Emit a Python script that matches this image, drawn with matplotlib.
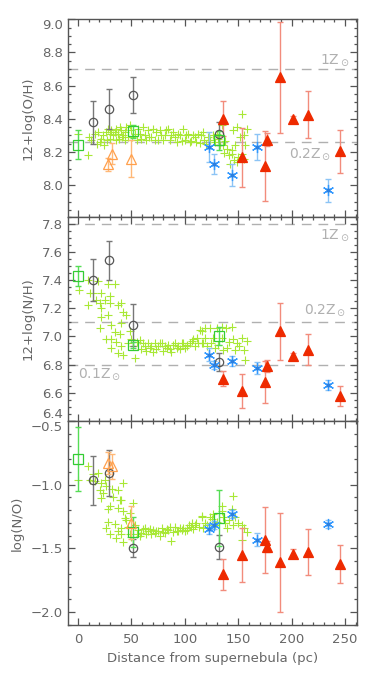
import matplotlib
matplotlib.use('Agg')
import matplotlib.pyplot as plt
from matplotlib.ticker import MultipleLocator

# ---- spaxel crosses (yellow-green) ----
oh_cross_x = [0.6, 9.6, 10.3, 12.5, 15.9, 17.5, 19, 20.6, 22, 23.6, 24.5, 26.7, 27.5, 28.3, 29.9, 30.5,
              31.4, 33, 34.5, 35.5, 36.1, 37.6, 38.5, 39.2, 40.8, 41.5, 42.3, 43.9, 44.5, 45.4, 47, 48.5,
              50.1, 51, 53.5, 55, 56.3, 57.9, 59, 61, 62.5, 64, 65.6, 67, 68.8, 70.3, 72, 73.5, 75, 77,
              78.1, 80, 81.3, 82.5, 84.4, 86, 87.5, 89.1, 90.7, 92.5, 94, 95.4, 97, 98.5, 100, 101.5,
              103.2, 104.5, 106.3, 108, 109.4, 111, 112.5, 114, 115.5, 117.2, 118.5, 120, 121.5, 124,
              126, 128, 130, 131.5, 133, 134.7, 135.7, 136.9, 137.8, 139.4, 141, 142.5, 144, 144.6,
              145.6, 146.5, 147, 148.7, 149.3, 150, 151.8, 153.4, 154, 155, 155.5, 156.5, 158]
oh_cross_y = [8.31, 8.18, 8.29, 8.27, 8.31, 8.25, 8.32, 8.26, 8.28, 8.30, 8.24, 8.32, 8.27, 8.34, 8.31, 8.28,
              8.33, 8.30, 8.32, 8.27, 8.34, 8.31, 8.28, 8.35, 8.33, 8.29, 8.30, 8.32, 8.27, 8.35, 8.29, 8.36,
              8.33, 8.29, 8.31, 8.27, 8.34, 8.31, 8.28, 8.35, 8.30, 8.27, 8.33, 8.29, 8.29, 8.34, 8.27, 8.32,
              8.275, 8.33, 8.30, 8.27, 8.30, 8.33, 8.34, 8.275, 8.30, 8.32, 8.29, 8.26, 8.31, 8.30, 8.265,
              8.34, 8.275, 8.30, 8.31, 8.26, 8.265, 8.30, 8.29, 8.26, 8.31, 8.255, 8.30, 8.32, 8.27, 8.25,
              8.29, 8.27, 8.30, 8.26, 8.31, 8.28, 8.24, 8.36, 8.24, 8.195, 8.265, 8.22, 8.18, 8.13, 8.21,
              8.19, 8.33, 8.15, 8.24, 8.14, 8.35, 8.17, 8.29, 8.19, 8.43, 8.16, 8.30, 8.245, 8.34]

nh_cross_x = [0.9, 9.6, 9.6, 11.2, 14.3, 17.4, 19, 20.6, 20.6, 22, 22, 22, 25.2, 26.8, 28.3, 28.3, 29.9,
              29.9, 31.4, 31.4, 31.4, 34.6, 34.6, 36.1, 37.7, 37.7, 39.3, 40.8, 40.8, 40.8, 42.4, 42.4,
              45.5, 47, 48.6, 50.2, 51.7, 53.3, 55, 58, 59.5, 61.1, 62.7, 64, 65.8, 67.5, 68.9, 70.5, 72,
              73.5, 75.2, 76.8, 78.3, 80, 81.4, 83, 84.5, 86.1, 87.5, 89, 90.8, 92.5, 93.9, 95.5, 97.3,
              98.6, 100, 101.7, 102, 104.8, 106.6, 107.9, 109.5, 111.3, 112.6, 114.4, 115.7, 116, 117.5,
              119, 119.1, 121, 123.8, 125, 126.9, 128.5, 130, 131.6, 134.7, 134.7, 136.2, 138.4, 139.3,
              141, 144, 145.6, 147.2, 149, 151, 153.4, 155, 156.5, 158]
nh_cross_y = [7.33, 7.40, 7.22, 7.305, 7.305, 7.26, 7.39, 7.235, 7.06, 7.305, 7.20, 7.14, 7.26, 6.98, 7.375,
              7.15, 7.29, 7.235, 7.08, 6.98, 6.92, 7.375, 7.03, 6.96, 7.22, 6.88, 7.015, 7.235, 7.095, 6.93,
              7.175, 6.87, 7.15, 6.955, 7.035, 6.98, 6.93, 6.85, 6.96, 6.977, 6.91, 6.955, 6.93, 6.90, 6.95,
              6.92, 6.935, 6.89, 6.955, 6.91, 6.93, 6.95, 6.95, 6.90, 6.93, 6.92, 6.94, 6.91, 6.89, 6.94,
              6.955, 6.92, 6.935, 6.91, 6.953, 6.95, 6.92, 6.93, 6.94, 6.955, 6.965, 6.98, 6.93, 6.99, 6.95,
              7.047, 7.04, 6.953, 6.953, 7.06, 6.99, 6.93, 7.06, 6.95, 6.99, 6.92, 7.06, 6.94, 7.07, 6.99,
              6.906, 7.06, 6.92, 6.96, 7.07, 6.98, 6.906, 6.95, 6.93, 6.99, 6.906, 6.836, 6.965]

no_cross_x = [0.3, 9.6, 11, 14.3, 16, 19, 20.6, 22, 22, 23.6, 25.2, 26.7, 26.7, 28.3, 28.3, 29.9, 29.9,
              31.5, 33, 34.6, 36.1, 37.7, 37.7, 37.7, 39.3, 40.8, 40.8, 40.8, 42.4, 42.4, 42.4, 44, 45.5,
              47, 48.6, 48.6, 50, 51.7, 53.5, 55, 56.4, 58, 59.5, 61, 62.7, 64, 65.8, 67.5, 68.9, 70.4, 72,
              73.5, 75.2, 76.8, 78.3, 80, 81.4, 83, 84.5, 86, 87.6, 89, 90.8, 92.5, 93.9, 95.5, 97.3, 98.6,
              100, 101.7, 102, 104, 106.3, 106.6, 108, 109.7, 111, 113, 115.7, 116, 117.5, 119.1, 121,
              123.8, 125.4, 126.9, 128.5, 130, 134.7, 134.7, 136.2, 137.5, 139.3, 141, 144, 145, 145.6,
              147.2, 150, 153.4, 153.4, 155, 158]
no_cross_y = [-0.965, -0.856, -0.96, -0.92, -0.97, -0.908, -1.04, -0.987, -1.105, -1.065, -0.96, -1.01,
              -1.34, -1.19, -1.29, -1.17, -1.39, -1.03, -1.10, -1.31, -1.42, -1.04, -1.18, -1.36, -1.12,
              -1.12, -1.34, -1.39, -0.987, -1.21, -1.45, -1.26, -1.28, -1.33, -1.22, -1.39, -1.41, -1.14,
              -1.32, -1.39, -1.354, -1.40, -1.38, -1.35, -1.34, -1.39, -1.366, -1.35, -1.39, -1.354, -1.38,
              -1.36, -1.366, -1.40, -1.34, -1.37, -1.38, -1.35, -1.354, -1.33, -1.44, -1.37, -1.33, -1.36,
              -1.366, -1.34, -1.354, -1.34, -1.36, -1.354, -1.34, -1.32, -1.33, -1.30, -1.35, -1.32, -1.30,
              -1.33, -1.25, -1.244, -1.34, -1.30, -1.32, -1.25, -1.27, -1.23, -1.32, -1.29, -1.17, -1.21,
              -1.25, -1.30, -1.34, -1.28, -1.19, -1.09, -1.315, -1.25, -1.30, -1.315, -1.43, -1.34, -1.37]

# ---- open circles (grey) ----
circ_x = [14, 29, 52, 132]
oh_circ = [8.38, 8.46, 8.545, 8.31]
oh_circ_err = [0.13, 0.12, 0.11, 0.07]
nh_circ = [7.40, 7.54, 7.08, 6.82]
nh_circ_err = [0.15, 0.14, 0.15, 0.065]
no_circ = [-0.966, -0.908, -1.498, -1.49]
no_circ_err = [0.19, 0.18, 0.07, 0.095]

# ---- open squares (green) ----
sq_x = [0, 52, 132]
oh_sq = [8.245, 8.325, 8.27]
oh_sq_err = [0.09, 0.04, 0.055]
nh_sq = [7.43, 6.94, 7.005]
nh_sq_err = [0.07, 0.02, 0.065]
no_sq = [-0.80, -1.372, -1.262]
no_sq_err = [0.25, 0.115, 0.22]

# ---- open triangles (orange) ----
tri_x = [28, 32, 50]
oh_tri = [8.125, 8.19, 8.16]
oh_tri_err = [0.04, 0.065, 0.11]
no_tri = [-0.83, -0.856, -1.297]
no_tri_err = [0.09, 0.1, 0.13]

# ---- asterisks (blue) ----
ast_x = [123, 127.5, 144.3, 167.7, 233.9]
oh_ast = [8.23, 8.13, 8.06, 8.23, 7.97]
oh_ast_err = [0.09, 0.06, 0.065, 0.08, 0.07]
nh_ast = [6.87, 6.796, 6.824, 6.777, 6.655]
nh_ast_err = [0.045, 0.03, 0.035, 0.045, 0.035]
no_ast = [-1.346, -1.315, -1.228, -1.43, -1.31]
no_ast_err = [0.04, 0.03, 0.03, 0.05, 0.03]

# ---- filled triangles (red) ----
red_x = [136, 153.4, 175.3, 177, 189.3, 201, 215.7, 245.2]
oh_red = [8.40, 8.167, 8.117, 8.275, 8.65, 8.40, 8.425, 8.205]
oh_red_err = [0.105, 0.18, 0.21, 0.04, 0.335, 0.02, 0.14, 0.13]
nh_red = [6.70, 6.613, 6.676, 6.79, 7.035, 6.86, 6.906, 6.577]
nh_red_err = [0.055, 0.12, 0.15, 0.04, 0.2, 0.02, 0.11, 0.07]
no_red = [-1.703, -1.551, -1.433, -1.486, -1.61, -1.54, -1.525, -1.622]
no_red_err = [0.12, 0.21, 0.26, 0.045, 0.39, 0.035, 0.18, 0.15]

axis_col = '#555555'
text_col = '#666666'
ref_col = '#b0b0b0'

plt.rcParams['font.family'] = ['DejaVu Sans']

fig = plt.figure(figsize=(3.74, 6.8), dpi=100)
gs = fig.add_gridspec(3, 1, height_ratios=[197.4, 204.3, 204], hspace=0,
                      left=0.181, right=0.954, top=0.9716, bottom=0.081)
axes = [fig.add_subplot(gs[i]) for i in range(3)]


def errpts(ax, x, y, e, mk, mc, ec, ms, filled=False, z=3):
    ax.errorbar(x, y, yerr=e, fmt='none', ecolor=ec, elinewidth=1.0, capsize=2, capthick=1.0, zorder=z)
    ax.plot(x, y, linestyle='none', marker=mk, ms=ms, mew=0.9,
            mfc=mc if filled else 'none', mec=mc, zorder=z + 0.5)


def panel(ax, cx, cy, circ, circ_e, sq, sq_e, tri, tri_e, ast, ast_e, red, red_e):
    ax.plot(cx, cy, linestyle='none', marker='+', ms=6, mew=0.8, color='#a8e835', zorder=2)
    errpts(ax, circ_x, circ, circ_e, 'o', '#555555', '#777777', 6)
    errpts(ax, sq_x, sq, sq_e, 's', '#33cc33', '#55dd55', 6.5)
    if tri is not None:
        errpts(ax, tri_x, tri, tri_e, '^', '#ffa04d', '#ffb877', 7.5)
    errpts(ax, ast_x, ast, ast_e, (6, 2, 0), '#3399ff', '#8cc4f5', 8)
    ax.plot(ast_x, ast, linestyle='none', marker='o', ms=2, color='#2a7fe0', zorder=4)
    errpts(ax, red_x, red, red_e, '^', '#ee2a00', '#f28c7c', 7.5, filled=True)


panel(axes[0], oh_cross_x, oh_cross_y, oh_circ, oh_circ_err, oh_sq, oh_sq_err,
      oh_tri, oh_tri_err, oh_ast, oh_ast_err, oh_red, oh_red_err)
panel(axes[1], nh_cross_x, nh_cross_y, nh_circ, nh_circ_err, nh_sq, nh_sq_err,
      None, None, nh_ast, nh_ast_err, nh_red, nh_red_err)
panel(axes[2], no_cross_x, no_cross_y, no_circ, no_circ_err, no_sq, no_sq_err,
      no_tri, no_tri_err, no_ast, no_ast_err, no_red, no_red_err)

# reference abundance lines
dash = dict(color=ref_col, lw=1.0, dashes=(7, 5), zorder=1)
for yv in [8.70, 8.26]:
    axes[0].axhline(yv, **dash)
for yv in [7.8, 7.1, 6.8]:
    axes[1].axhline(yv, **dash)

lab = dict(color=ref_col, fontsize=10)
axes[0].text(254, 8.755, '1Z$_\\odot$', ha='right', va='center', **lab)
axes[0].text(237, 8.185, '0.2Z$_\\odot$', ha='right', va='center', **lab)
axes[1].text(254, 7.72, '1Z$_\\odot$', ha='right', va='center', **lab)
axes[1].text(251, 7.19, '0.2Z$_\\odot$', ha='right', va='center', **lab)
axes[1].text(0.5, 6.73, '0.1Z$_\\odot$', ha='left', va='center', **lab)

ylims = [(7.81, 9.0), (6.4, 7.85), (-2.1, -0.5)]
ymaj = [0.2, 0.2, 0.5]
ymin = [0.05, 0.05, 0.1]
ylabels = ['12+log(O/H)', '12+log(N/H)', 'log(N/O)']
for ax, yl, mj, mn, lb in zip(axes, ylims, ymaj, ymin, ylabels):
    ax.set_xlim(-9.5, 261)
    ax.set_ylim(*yl)
    ax.xaxis.set_major_locator(MultipleLocator(50))
    ax.xaxis.set_minor_locator(MultipleLocator(10))
    ax.yaxis.set_major_locator(MultipleLocator(mj))
    ax.yaxis.set_minor_locator(MultipleLocator(mn))
    ax.tick_params(which='both', direction='in', top=True, right=True, color=axis_col,
                   labelcolor=text_col, labelsize=9.5, width=0.9)
    ax.tick_params(which='major', length=5)
    ax.tick_params(which='minor', length=2.5)
    for s in ax.spines.values():
        s.set_color(axis_col)
        s.set_linewidth(1.0)
    ax.set_ylabel(lb, color=text_col, fontsize=9.5, labelpad=5)

axes[0].set_yticks([8.0, 8.2, 8.4, 8.6, 8.8, 9.0])
axes[1].set_yticks([6.4, 6.6, 6.8, 7.0, 7.2, 7.4, 7.6, 7.8])
axes[2].set_yticks([-2.0, -1.5, -1.0, -0.5])
axes[0].tick_params(labelbottom=False)
axes[1].tick_params(labelbottom=False)
axes[2].tick_params(axis='x', pad=6)
axes[2].set_xlabel('Distance from supernebula (pc)', color=text_col, fontsize=9.5)

# keep the edge labels inside their own panels
fig.canvas.draw()
axes[0].get_yticklabels()[-1].set_va('top')
axes[1].get_yticklabels()[0].set_va('bottom')
axes[2].get_yticklabels()[-1].set_va('top')

fig.savefig('out.png', dpi=100)
